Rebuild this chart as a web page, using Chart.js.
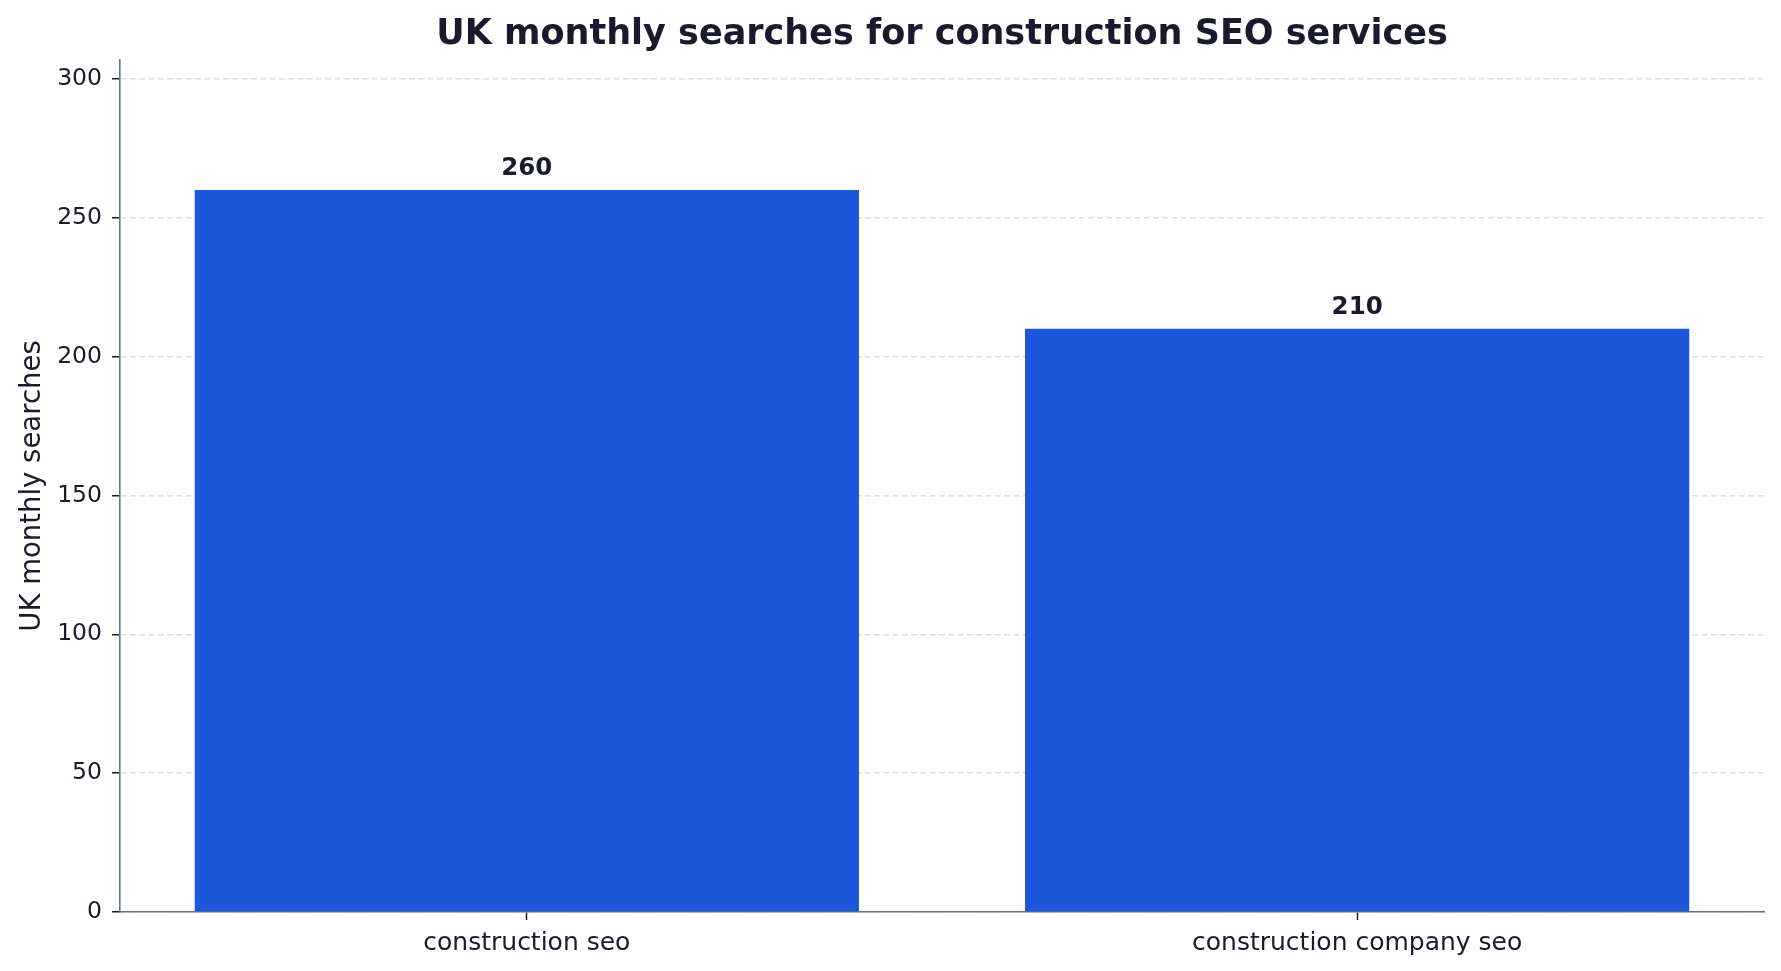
<!DOCTYPE html>
<html>
<head>
<meta charset="utf-8">
<script src="https://cdn.jsdelivr.net/npm/chart.js@4.4.1/dist/chart.umd.min.js"></script>
<style>
  html, body { margin: 0; padding: 0; background: #fff; }
  #wrap { width: 1781px; height: 971px; }
</style>
</head>
<body>
<div id="wrap"><canvas id="c" width="1781" height="971"></canvas></div>
<script>
const categories = ['construction seo', 'construction company seo']
const searches = [260, 210]
const yTicks = [0, 50, 100, 150, 200, 250, 300]
const yMax = 306.8

const ink = '#1a1a2e'
const spine = '#64748b'
const barColor = '#1b56db'

// bars sit at x = 0, 1 on a linear axis so the spacing matches the original
const points = searches.map((v, i) => ({ x: i, y: v }))

// value labels above each bar
const valueLabels = {
  id: 'valueLabels',
  afterDatasetsDraw: (c) => {
    const x = c.ctx
    const meta = c.getDatasetMeta(0)
    x.save()
    x.fillStyle = ink
    x.font = 'bold 24.5px "DejaVu Sans", sans-serif'
    x.textAlign = 'center'
    x.textBaseline = 'alphabetic'
    meta.data.forEach((bar, i) => {
      x.fillText(String(searches[i]), bar.x, bar.y - 15)
    })
    x.restore()
  },
}

new Chart(document.getElementById('c'), {
  type: 'bar',
  data: {
    datasets: [
      {
        data: points,
        backgroundColor: barColor,
        borderWidth: 0,
        categoryPercentage: 0.8,
        barPercentage: 1,
      },
    ],
  },
  plugins: [valueLabels],
  options: {
    responsive: false,
    animation: false,
    devicePixelRatio: 1,
    layout: { padding: { top: 0, right: 17, bottom: 0, left: 0 } },
    plugins: {
      legend: { display: false },
      tooltip: { enabled: false },
      title: {
        display: true,
        fullSize: false,
        text: 'UK monthly searches for construction SEO services',
        color: ink,
        font: { family: '"DejaVu Sans", sans-serif', size: 35, weight: 'bold' },
        padding: { top: 14, bottom: 4 },
      },
    },
    scales: {
      x: {
        type: 'linear',
        min: -0.49,
        max: 1.49,
        offset: false,
        afterBuildTicks: (s) => {
          s.ticks = categories.map((_, i) => ({ value: i }))
        },
        grid: {
          offset: false,
          drawOnChartArea: false,
          drawTicks: true,
          tickLength: 8,
          tickColor: ink,
          tickWidth: 1.5,
        },
        border: { color: spine, width: 1.6 },
        ticks: {
          color: ink,
          padding: 8,
          autoSkip: false,
          maxRotation: 0,
          font: { family: '"DejaVu Sans", sans-serif', size: 25 },
          callback: (v) => categories[v] ?? '',
        },
        afterFit: (s) => { s.height = 59 },
      },
      y: {
        min: 0,
        max: yMax,
        z: 1,
        afterBuildTicks: (s) => {
          s.ticks = yTicks.map((v) => ({ value: v }))
        },
        grid: {
          color: 'rgba(195,195,195,0.55)',
          lineWidth: 1.5,
          tickColor: ink,
          tickLength: 8,
          tickWidth: 1.5,
          tickBorderDash: [],
        },
        border: { color: spine, width: 1.6, dash: [6, 3.3] },
        ticks: {
          color: ink,
          padding: 10,
          font: { family: '"DejaVu Sans", sans-serif', size: 23.5 },
        },
        title: {
          display: true,
          text: 'UK monthly searches',
          color: ink,
          font: { family: '"DejaVu Sans", sans-serif', size: 27.5 },
          padding: { top: 16, bottom: 0 },
        },
        afterFit: (s) => { s.width = 120 },
      },
    },
  },
})
</script>
</body>
</html>
